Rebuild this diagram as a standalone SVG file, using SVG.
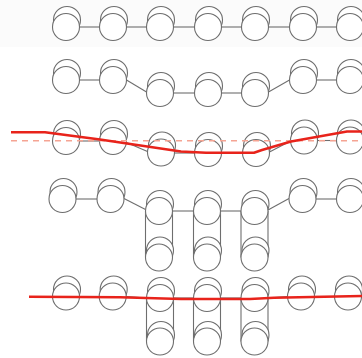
<svg xmlns="http://www.w3.org/2000/svg" width="362" height="358" viewBox="0 0 362 358">
<style>
circle{fill:#fff;stroke:#6e6e6e;stroke-width:1.1}
.c line{stroke:#6e6e6e;stroke-width:1.1;fill:none}
.red{fill:none;stroke:#e8231b;stroke-width:2.5;stroke-linejoin:round;stroke-linecap:butt}
.dash{stroke:#f5a493;stroke-width:1.5;stroke-dasharray:6 5}
</style>
<rect x="0" y="0" width="362" height="47" fill="#fbfbfb"/>
<g id="connectors" class="c">
<line x1="79.5" y1="27" x2="99.5" y2="27"/>
<line x1="126.5" y1="27" x2="146.5" y2="27"/>
<line x1="173.5" y1="27" x2="194.5" y2="27"/>
<line x1="221.5" y1="27" x2="241.5" y2="27"/>
<line x1="268.5" y1="27" x2="289.5" y2="27"/>
<line x1="316.5" y1="27" x2="336.5" y2="27"/>
<line x1="79.5" y1="80" x2="99.5" y2="80"/>
<line x1="126.5" y1="80" x2="146.5" y2="92"/>
<line x1="173.5" y1="93" x2="194.5" y2="93"/>
<line x1="221.5" y1="93" x2="241.5" y2="93"/>
<line x1="268.5" y1="92" x2="289.5" y2="80"/>
<line x1="316.5" y1="80" x2="336.5" y2="80"/>
<line x1="79.5" y1="141" x2="99.5" y2="141"/>
<line x1="126.5" y1="142.5" x2="147.5" y2="151.5"/>
<line x1="174.5" y1="153" x2="194.5" y2="153"/>
<line x1="221.5" y1="153" x2="242.5" y2="153"/>
<line x1="269.5" y1="152" x2="290.5" y2="141"/>
<line x1="317.5" y1="140.5" x2="336.5" y2="140.5"/>
<line x1="76" y1="199" x2="97" y2="199"/>
<line x1="124" y1="198.5" x2="145.5" y2="209.5"/>
<line x1="172.5" y1="211" x2="193.5" y2="211"/>
<line x1="220.5" y1="211" x2="241" y2="211"/>
<line x1="268" y1="210" x2="289" y2="198.5"/>
<line x1="316" y1="199" x2="336.5" y2="199"/>
<line x1="145.5" y1="211" x2="145.5" y2="257.5"/>
<line x1="172.5" y1="211" x2="172.5" y2="257.5"/>
<line x1="193.5" y1="211" x2="193.5" y2="257.5"/>
<line x1="220.5" y1="211" x2="220.5" y2="257.5"/>
<line x1="241" y1="211" x2="241" y2="257.5"/>
<line x1="268" y1="211" x2="268" y2="257.5"/>
<line x1="79.5" y1="296.5" x2="99.2" y2="296.5"/>
<line x1="126.2" y1="296.5" x2="146.5" y2="298"/>
<line x1="173.5" y1="298" x2="193.5" y2="298"/>
<line x1="220.5" y1="298" x2="241" y2="298"/>
<line x1="268" y1="298" x2="287.5" y2="296.5"/>
<line x1="314.5" y1="296.5" x2="334.5" y2="296.5"/>
<line x1="146.5" y1="298" x2="146.5" y2="341.5"/>
<line x1="173.5" y1="298" x2="173.5" y2="341.5"/>
<line x1="193.5" y1="298" x2="193.5" y2="341.5"/>
<line x1="220.5" y1="298" x2="220.5" y2="341.5"/>
<line x1="241" y1="298" x2="241" y2="341.5"/>
<line x1="268" y1="298" x2="268" y2="341.5"/>
</g>
<g id="r1n1"><circle cx="67" cy="20" r="13.5"/><circle cx="66" cy="27" r="13.5"/></g>
<g id="r1n2"><circle cx="114" cy="20" r="13.5"/><circle cx="113" cy="27" r="13.5"/></g>
<g id="r1n3"><circle cx="161" cy="20" r="13.5"/><circle cx="160" cy="27" r="13.5"/></g>
<g id="r1n4"><circle cx="209" cy="20" r="13.5"/><circle cx="208" cy="27" r="13.5"/></g>
<g id="r1n5"><circle cx="256" cy="20" r="13.5"/><circle cx="255" cy="27" r="13.5"/></g>
<g id="r1n6"><circle cx="304" cy="20" r="13.5"/><circle cx="303" cy="27" r="13.5"/></g>
<g id="r1n7"><circle cx="351" cy="20" r="13.5"/><circle cx="350" cy="27" r="13.5"/></g>
<g id="r2n1"><circle cx="67" cy="73" r="13.5"/><circle cx="66" cy="80" r="13.5"/></g>
<g id="r2n2"><circle cx="114" cy="73" r="13.5"/><circle cx="113" cy="80" r="13.5"/></g>
<g id="r2n3"><circle cx="161" cy="86" r="13.5"/><circle cx="160" cy="93" r="13.5"/></g>
<g id="r2n4"><circle cx="209" cy="86" r="13.5"/><circle cx="208" cy="93" r="13.5"/></g>
<g id="r2n5"><circle cx="256" cy="86" r="13.5"/><circle cx="255" cy="93" r="13.5"/></g>
<g id="r2n6"><circle cx="304" cy="73" r="13.5"/><circle cx="303" cy="80" r="13.5"/></g>
<g id="r2n7"><circle cx="351" cy="73" r="13.5"/><circle cx="350" cy="80" r="13.5"/></g>
<g id="r3n1"><circle cx="67" cy="134" r="13.5"/><circle cx="66" cy="141" r="13.5"/></g>
<g id="r3n2"><circle cx="114" cy="134" r="13.5"/><circle cx="113" cy="141" r="13.5"/></g>
<g id="r3n3"><circle cx="162" cy="145.5" r="13.5"/><circle cx="161" cy="152.5" r="13.5"/></g>
<g id="r3n4"><circle cx="209" cy="146" r="13.5"/><circle cx="208" cy="153" r="13.5"/></g>
<g id="r3n5"><circle cx="257" cy="146" r="13.5"/><circle cx="256" cy="153" r="13.5"/></g>
<g id="r3n6"><circle cx="305" cy="133.5" r="13.5"/><circle cx="304" cy="140.5" r="13.5"/></g>
<g id="r3n7"><circle cx="351" cy="133.5" r="13.5"/><circle cx="350" cy="140.5" r="13.5"/></g>
<g id="r4n1"><circle cx="63.5" cy="192" r="13.5"/><circle cx="62.5" cy="199" r="13.5"/></g>
<g id="r4n2"><circle cx="111.5" cy="192" r="13.5"/><circle cx="110.5" cy="199" r="13.5"/></g>
<g id="r4n3"><circle cx="160" cy="204" r="13.5"/><circle cx="159" cy="211" r="13.5"/><circle cx="160" cy="250.5" r="13.5"/><circle cx="159" cy="257.5" r="13.5"/></g>
<g id="r4n4"><circle cx="208" cy="204" r="13.5"/><circle cx="207" cy="211" r="13.5"/><circle cx="208" cy="250.5" r="13.5"/><circle cx="207" cy="257.5" r="13.5"/></g>
<g id="r4n5"><circle cx="255.5" cy="204" r="13.5"/><circle cx="254.5" cy="211" r="13.5"/><circle cx="255.5" cy="250.5" r="13.5"/><circle cx="254.5" cy="257.5" r="13.5"/></g>
<g id="r4n6"><circle cx="303.5" cy="192" r="13.5"/><circle cx="302.5" cy="199" r="13.5"/></g>
<g id="r4n7"><circle cx="351" cy="192" r="13.5"/><circle cx="350" cy="199" r="13.5"/></g>
<g id="r5n1"><circle cx="67" cy="289.5" r="13.5"/><circle cx="66" cy="296.5" r="13.5"/></g>
<g id="r5n2"><circle cx="113.7" cy="289.5" r="13.5"/><circle cx="112.7" cy="296.5" r="13.5"/></g>
<g id="r5n3"><circle cx="161" cy="291" r="13.5"/><circle cx="160" cy="298" r="13.5"/><circle cx="161" cy="335" r="13.5"/><circle cx="160" cy="341.5" r="13.5"/></g>
<g id="r5n4"><circle cx="208" cy="291" r="13.5"/><circle cx="207" cy="298" r="13.5"/><circle cx="208" cy="335" r="13.5"/><circle cx="207" cy="341.5" r="13.5"/></g>
<g id="r5n5"><circle cx="255.5" cy="291" r="13.5"/><circle cx="254.5" cy="298" r="13.5"/><circle cx="255.5" cy="335" r="13.5"/><circle cx="254.5" cy="341.5" r="13.5"/></g>
<g id="r5n6"><circle cx="302" cy="289.5" r="13.5"/><circle cx="301" cy="296.5" r="13.5"/></g>
<g id="r5n7"><circle cx="349" cy="289.5" r="13.5"/><circle cx="348" cy="296.5" r="13.5"/></g>
<g id="overlays">
<line class="dash" x1="11" y1="140.7" x2="362" y2="140.7"/>
<polyline class="red" points="11,132.3 45,132.3 100,139.5 181,151.5 206,152.7 254,152.7 262,150 291,141.5 347,131.5 362,131.5"/>
<polyline class="red" points="29,296.7 120,297.3 181,299 250,299 274,297.7 362,296"/>
</g>
</svg>
